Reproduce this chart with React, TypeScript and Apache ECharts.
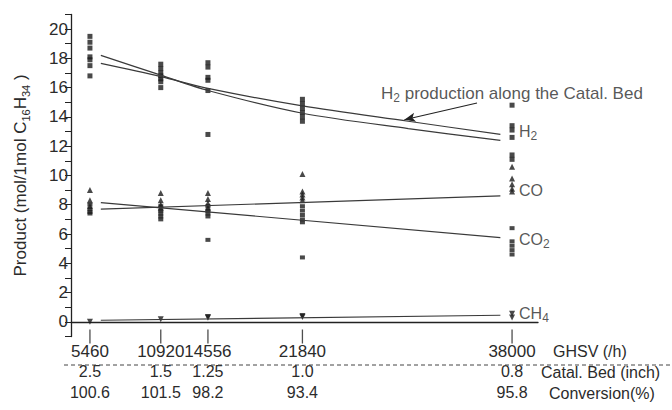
import React, { useEffect, useRef } from 'react';
import * as echarts from 'echarts';

// ---- data ----
const GHSV = [5460, 10920, 14556, 21840, 38000];
const CATAL_BED = ['2.5', '1.5', '1.25', '1.0', '0.8'];
const CONVERSION = ['100.6', '101.5', '98.2', '93.4', '95.8'];

// measured points, one list per GHSV column
const H2_POINTS = [
  [19.5, 19.1, 18.7, 18.1, 17.9, 17.5, 16.8],
  [17.6, 17.3, 17.0, 16.8, 16.6, 16.4, 16.0],
  [17.7, 17.4, 16.7, 16.5, 15.8, 12.8],
  [15.2, 14.9, 14.6, 14.3, 14.0, 13.7],
  [14.8, 13.4, 13.1, 12.6, 11.4, 11.1],
];
const CO_POINTS = [
  [9.0, 8.3, 7.9],
  [8.8, 8.3, 8.0, 7.8],
  [8.8, 8.4, 8.1, 7.8],
  [10.1, 8.9, 8.7, 8.5, 8.3],
  [10.6, 9.8, 9.4, 9.1, 8.9],
];
const CO2_POINTS = [
  [8.0, 7.7, 7.5, 7.4],
  [7.9, 7.6, 7.4, 7.2, 7.0],
  [7.9, 7.6, 7.4, 7.2, 5.6],
  [7.9, 7.6, 7.3, 7.0, 6.8, 4.4],
  [6.4, 5.5, 5.2, 4.9, 4.6],
];
const CH4_POINTS = [
  [0.0],
  [0.18],
  [0.28, 0.33],
  [0.33, 0.4],
  [0.55, 0.3],
];

// fitted curves
const FIT_X = [6300, 10920, 14556, 21840, 30000, 37100];
const H2_BED_LINE = [17.65, 16.75, 15.95, 14.75, 13.7, 12.8];
const H2_FIT_LINE = [18.2, 16.85, 15.8, 14.25, 13.2, 12.4];
const LINE_END_X = [6300, 37100];
const CO_LINE = [7.7, 8.6];
const CO2_LINE = [8.15, 5.75];
const CH4_LINE = [0.11, 0.45];

// annotation anchors (data space)
const SPECIES_LABELS = [
  { text: 'H{s|2}', x: 38000, y: 13.0 },
  { text: 'CO', x: 38000, y: 9.0 },
  { text: 'CO{s|2}', x: 38000, y: 5.6 },
  { text: 'CH{s|4}', x: 38000, y: 0.6 },
];
const NOTE_TEXT = 'H{s|2} production along the Catal. Bed';
const NOTE_ANCHOR = [27900, 15.6];
const ARROW_FROM = [35300, 14.95];
const ARROW_TO = [29700, 13.8];

const FONT = '"Liberation Sans", Arial, Helvetica, sans-serif';
const TEXT = '#2b2b2b';
const MARK = '#1c1c1c';
const LINE = '#3a3a3a';
const FS = 16;

export default function App() {
  const ref = useRef<HTMLDivElement>(null);

  useEffect(() => {
    const chart = echarts.init(ref.current!, null, { renderer: 'svg' });
    const scatterFrom = (cols: number[][]) =>
      cols.flatMap((vals, i) => vals.map((v) => [GHSV[i], v]));
    const lineFrom = (xs: number[], ys: number[]) => xs.map((x, i) => [x, ys[i]]);
    const sub = { fontSize: 12, verticalAlign: 'bottom', fontFamily: FONT, color: TEXT };
    const main = { fontSize: 16, lineHeight: 21, fontFamily: FONT, color: TEXT };

    const rowAxis = (offset: number, labels: string[]) => ({
      type: 'value',
      position: 'bottom',
      offset,
      min: 4000,
      max: 40000,
      axisLine: { show: false },
      axisTick: { show: false },
      splitLine: { show: false },
      axisLabel: {
        customValues: GHSV,
        formatter: (v: number) => labels[GHSV.indexOf(v)] ?? '',
        fontSize: FS,
        fontFamily: FONT,
        color: TEXT,
        margin: 6,
      },
    });

    const rowName = (text: string, x: number, y: number) => ({
      type: 'text',
      silent: true,
      x,
      y,
      style: {
        text,
        fontSize: FS,
        fontFamily: FONT,
        fill: TEXT,
        align: 'left',
        verticalAlign: 'middle',
      },
    });

    chart.setOption({
      animation: false,
      backgroundColor: '#ffffff',
      grid: { left: 71, right: 134, top: 14.4, bottom: 73.5, containLabel: false },
      xAxis: [
        {
          type: 'value',
          min: 4000,
          max: 40000,
          axisLine: { show: true, lineStyle: { color: '#222', width: 1.3 } },
          axisTick: { show: false },
          splitLine: { show: false },
          axisLabel: {
            customValues: GHSV,
            formatter: (v: number) => String(v),
            fontSize: 17,
            fontFamily: FONT,
            color: TEXT,
            margin: 6,
          },
        },
        rowAxis(21, CATAL_BED),
        rowAxis(42, CONVERSION),
      ],
      yAxis: {
        type: 'value',
        min: -1,
        max: 21,
        interval: 1,
        axisLine: { show: true, lineStyle: { color: '#222', width: 1.3 } },
        axisTick: { show: true, length: 6, lineStyle: { color: '#222', width: 1 } },
        splitLine: { show: false },
        axisLabel: {
          fontSize: 17,
          fontFamily: FONT,
          color: TEXT,
          margin: 3,
          formatter: (v: number) => (v >= 0 && v <= 20 && v % 2 === 0 ? String(v) : ''),
        },
        name: 'Product (mol/1mol C{s|16}H{s|34} )',
        nameLocation: 'middle',
        nameRotate: 90,
        nameGap: 40,
        nameTextStyle: {
          fontSize: 17,
          lineHeight: 22,
          fontFamily: FONT,
          color: TEXT,
          rich: { s: { ...sub, fontSize: 11 } },
        },
      },
      series: [
        {
          type: 'scatter',
          name: 'ticks',
          data: GHSV.map((g) => [g, -1]),
          symbol: 'rect',
          symbolSize: [1.3, 14],
          itemStyle: { color: '#222' },
          clip: false,
          silent: true,
          z: 1,
        },
        {
          type: 'line',
          name: 'H2 bed',
          data: lineFrom(FIT_X, H2_BED_LINE),
          smooth: 0.3,
          symbol: 'none',
          lineStyle: { color: LINE, width: 1.2 },
          markLine: {
            silent: true,
            symbol: ['none', 'arrow'],
            symbolSize: [7, 11],
            label: { show: false },
            lineStyle: { color: '#222', width: 1.1, type: 'solid' },
            data: [[{ coord: ARROW_FROM }, { coord: ARROW_TO }]],
          },
        },
        {
          type: 'line',
          name: 'H2 fit',
          data: lineFrom(FIT_X, H2_FIT_LINE),
          smooth: 0.3,
          symbol: 'none',
          lineStyle: { color: LINE, width: 1.2 },
        },
        {
          type: 'line',
          name: 'CO fit',
          data: lineFrom(LINE_END_X, CO_LINE),
          symbol: 'none',
          lineStyle: { color: LINE, width: 1.2 },
        },
        {
          type: 'line',
          name: 'CO2 fit',
          data: lineFrom(LINE_END_X, CO2_LINE),
          symbol: 'none',
          lineStyle: { color: LINE, width: 1.2 },
        },
        {
          type: 'line',
          name: 'CH4 fit',
          data: lineFrom(LINE_END_X, CH4_LINE),
          symbol: 'none',
          lineStyle: { color: LINE, width: 1.2 },
        },
        {
          type: 'scatter',
          name: 'H2',
          data: scatterFrom(H2_POINTS),
          symbol: 'rect',
          symbolSize: 5,
          itemStyle: { color: MARK },
        },
        {
          type: 'scatter',
          name: 'CO',
          data: scatterFrom(CO_POINTS),
          symbol: 'triangle',
          symbolSize: 6,
          itemStyle: { color: MARK },
        },
        {
          type: 'scatter',
          name: 'CO2',
          data: scatterFrom(CO2_POINTS),
          symbol: 'rect',
          symbolSize: [5, 4],
          itemStyle: { color: MARK },
        },
        {
          type: 'scatter',
          name: 'CH4',
          data: scatterFrom(CH4_POINTS),
          symbol: 'triangle',
          symbolRotate: 180,
          symbolSize: 6,
          itemStyle: { color: MARK },
        },
        {
          type: 'scatter',
          name: 'labels',
          silent: true,
          symbolSize: 0,
          data: SPECIES_LABELS.map((l) => ({
            value: [l.x, l.y],
            label: { formatter: l.text },
          })),
          label: {
            show: true,
            position: 'right',
            distance: 7,
            ...main,
            rich: { s: sub },
          },
        },
        {
          type: 'scatter',
          name: 'note',
          silent: true,
          symbolSize: 0,
          data: [{ value: NOTE_ANCHOR, label: { formatter: NOTE_TEXT } }],
          label: {
            show: true,
            position: 'right',
            distance: 0,
            ...main,
            fontSize: 17,
            rich: { s: { ...sub, fontSize: 12 } },
          },
        },
      ],
      graphic: [
        {
          type: 'line',
          silent: true,
          shape: { x1: 64, y1: 365, x2: 672, y2: 365 },
          style: { stroke: '#444', lineWidth: 1, lineDash: [4, 3] },
          z: 10,
        },
        rowName('GHSV (/h)', 553, 351),
        rowName('Catal. Bed (inch)', 541, 372),
        rowName('Conversion(%)', 549, 393),
      ],
    });

    return () => chart.dispose();
  }, []);

  return (
    <div
      ref={ref}
      style={{ position: 'fixed', left: 0, top: 0, width: 672, height: 410, background: '#fff' }}
    />
  );
}
